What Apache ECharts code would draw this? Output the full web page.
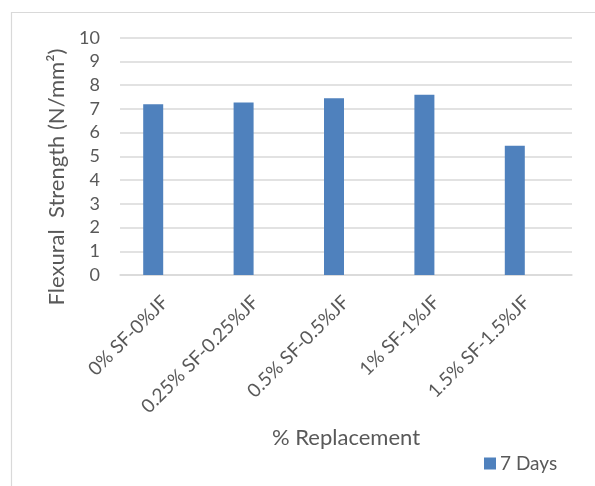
<!DOCTYPE html>
<html>
<head>
<meta charset="utf-8">
<script src="https://cdn.jsdelivr.net/npm/echarts@6/dist/echarts.min.js"></script>
<style>
html,body{margin:0;padding:0;background:#fff;}
#chart{width:595px;height:486px;}
</style>
</head>
<body>
<div id="chart"></div>
<script>
var categories = ['0% SF-0%JF', '0.25% SF-0.25%JF', '0.5% SF-0.5%JF', '1% SF-1%JF', '1.5% SF-1.5%JF'];
var days7 = [7.2, 7.27, 7.45, 7.6, 5.45];
var emptySeries = [null, null, null, null, null];
var yTicks = [0, 10, 1];
var seriesName = '7 Days';
var xTitle = '% Replacement';
var yTitle = 'Flexural  Strength (N/mm²)';

var FONT = 'Lato';
var TXT = '#595959';
var chart = echarts.init(document.getElementById('chart'), null, {renderer: 'canvas'});
chart.setOption({
  animation: false,
  backgroundColor: '#ffffff',
  textStyle: {fontFamily: FONT, color: TXT},
  grid: {left: 120, right: 23, top: 37.7, bottom: 211, containLabel: false},
  legend: {
    data: [seriesName], left: 479, top: 449, itemWidth: 12, itemHeight: 12, itemGap: 10,
    icon: 'rect',
    textStyle: {fontFamily: FONT, fontSize: 19, color: TXT, padding: [0, 0, 0, -1]}
  },
  xAxis: {
    type: 'category', data: categories,
    axisLine: {show: true, lineStyle: {color: '#D9D9D9', width: 1.5}},
    axisTick: {show: false},
    axisLabel: {rotate: 45, margin: 24, fontSize: 19, color: TXT, fontFamily: FONT, interval: 0},
    name: xTitle, nameLocation: 'middle', nameGap: 152,
    nameTextStyle: {fontSize: 22, color: TXT, fontFamily: FONT}
  },
  yAxis: {
    type: 'value', min: yTicks[0], max: yTicks[1], interval: yTicks[2],
    axisLine: {show: false}, axisTick: {show: false},
    axisLabel: {margin: 20, fontSize: 18, color: TXT, fontFamily: FONT},
    splitLine: {lineStyle: {color: '#D9D9D9', width: 1.5}}
  },
  graphic: [
    {type: 'rect', shape: {x: 11.5, y: 12.5, width: 700, height: 600}, style: {fill: 'none', stroke: '#D9D9D9', lineWidth: 1.2}, silent: true, z: -10},
    {type: 'text', x: 57, y: 177, rotation: Math.PI / 2,
     style: {text: yTitle, fontFamily: FONT, fontSize: 22, fill: TXT, textAlign: 'center', textVerticalAlign: 'middle'}}
  ],
  series: [
    {name: seriesName, type: 'bar', data: days7, barWidth: 20, barGap: '20%', itemStyle: {color: '#4F81BD'}},
    {name: 'blank', type: 'bar', data: emptySeries, barWidth: 20, itemStyle: {color: '#C0504D'}}
  ]
});
</script>
</body>
</html>
